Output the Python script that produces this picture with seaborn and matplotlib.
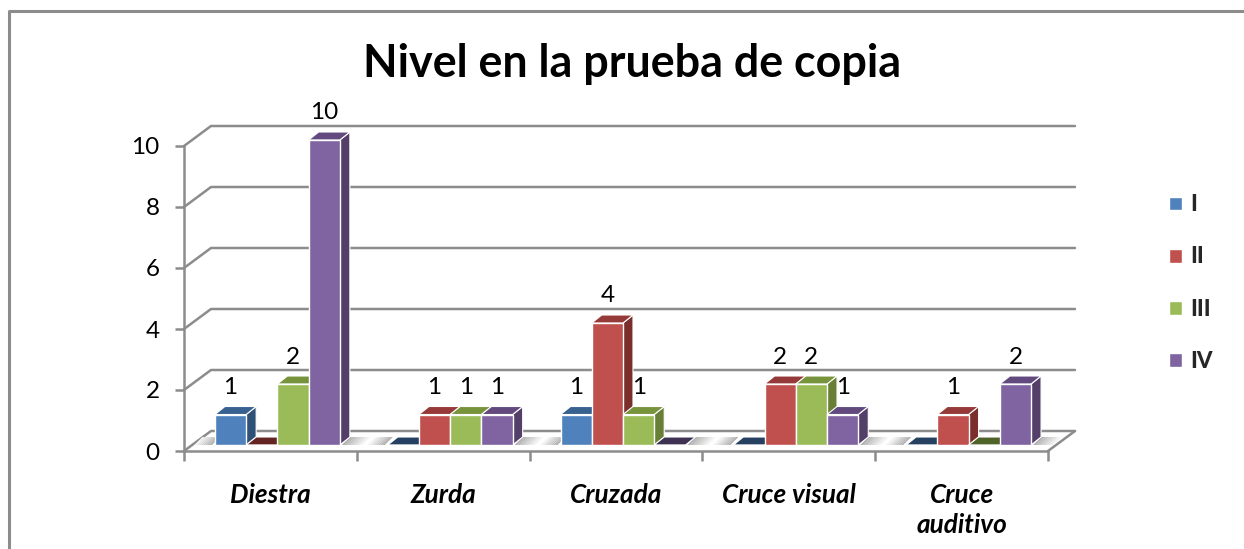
import pandas as pd
import seaborn as sns
import matplotlib.pyplot as plt
from matplotlib.lines import Line2D
from matplotlib.patches import Polygon
from matplotlib.transforms import Affine2D, IdentityTransform

categories = ["Diestra", "Zurda", "Cruzada", "Cruce visual", "Cruce\nauditivo"]
levels = ["I", "II", "III", "IV"]
values_I = [1, 0, 1, 0, 0]
values_II = [0, 1, 4, 2, 1]
values_III = [2, 1, 1, 2, 0]
values_IV = [10, 1, 0, 1, 2]

front_colors = ["#4F81BD", "#C0504D", "#9BBB59", "#8064A2"]
top_colors = ["#38618F", "#953A38", "#77933C", "#624A7E"]
side_colors = ["#2F5178", "#7B2F2D", "#6A7F36", "#533F68"]
flat_colors = ["#254061", "#632523", "#4F6228", "#3F3151"]
axis_gray = "#8C8C8C"

# pixel offsets of the fake 3d look
WALL_DX, WALL_DY = 27, 20
BAR_DX, BAR_DY = 7, 6
DEPTH_DX, DEPTH_DY = 10, 8

df = pd.DataFrame({
    "grupo": categories * 4,
    "nivel": [n for n in levels for _ in categories],
    "valor": values_I + values_II + values_III + values_IV,
})

sns.set_theme(style="white")
plt.rcParams["font.family"] = ["Lato", "DejaVu Sans"]

fig = plt.figure(figsize=(12.44, 5.49), dpi=100)
ax = fig.add_axes([184 / 1244, (549 - 451) / 549, 864 / 1244, 305 / 549])

sns.barplot(data=df, x="grupo", y="valor", hue="nivel", order=categories, hue_order=levels,
            palette=front_colors, width=0.723, gap=0, saturation=1, ax=ax, legend=True, zorder=3)

ax.set_xlim(-0.5, len(categories) - 0.5)
ax.set_ylim(0, 10)
ax.set_xlabel("")
ax.set_ylabel("")
ax.set_facecolor("none")

# axes and ticks
sns.despine(ax=ax)
for side in ["left", "bottom"]:
    ax.spines[side].set_color(axis_gray)
    ax.spines[side].set_linewidth(1.8)
ax.set_yticks(range(0, 11, 2))
ax.tick_params(axis="y", length=6.5, width=1.8, color=axis_gray, pad=11, labelsize=17.5, labelcolor="black", left=True)
ax.set_xticks(range(len(categories)))
ax.set_xticklabels(categories, fontsize=18.8, fontweight="bold", fontstyle="italic", color="black", linespacing=1.32)
ax.set_xticks([i - 0.5 for i in range(len(categories) + 1)], minor=True)
ax.tick_params(axis="x", which="major", length=0, pad=23)
ax.tick_params(axis="x", which="minor", length=7, width=1.8, color=axis_gray, bottom=True)
for lab in ax.get_xticklabels():
    lab.set_verticalalignment("top")

# floor and wall lines
x0, x1 = ax.get_xlim()
wall = Affine2D().translate(WALL_DX, WALL_DY)
for v in range(0, 11, 2):
    a = ax.transData.transform((x0, v))
    b = wall.transform(a)
    c = wall.transform(ax.transData.transform((x1, v)))
    ax.add_line(Line2D([a[0], b[0], c[0]], [a[1], b[1], c[1]], color=axis_gray, lw=1.8,
                       transform=IdentityTransform(), clip_on=False, zorder=1))
a = ax.transData.transform((x1, 0))
b = wall.transform(a)
ax.add_line(Line2D([a[0], b[0]], [a[1], b[1]], color=axis_gray, lw=1.8,
                   transform=IdentityTransform(), clip_on=False, zorder=1))


def para(x_left, x_right, y, color, zorder):
    # small parallelogram lying on the floor, in pixels
    pts = [(x_left, y), (x_right, y), (x_right + DEPTH_DX * 0.8, y + DEPTH_DY), (x_left + DEPTH_DX * 0.8, y + DEPTH_DY)]
    ax.add_patch(Polygon(pts, closed=True, facecolor=color, edgecolor="none",
                         transform=IdentityTransform(), clip_on=False, zorder=zorder))


# faded shadows on the floor at both ends of each group
floor_y = ax.transData.transform((0, 0))[1] + BAR_DY
n_fade = 8
for i in range(len(categories)):
    group_left = ax.transData.transform((i - 0.723 / 2, 0))[0] + BAR_DX
    group_right = ax.transData.transform((i + 0.723 / 2, 0))[0] + BAR_DX
    for k in range(n_fade):
        shade = 0.68 + 0.32 * k / n_fade
        para(group_right + 2 + k * 2.6, group_right + 2 + (k + 1) * 2.6, floor_y, (shade, shade, shade), 1.5)
        para(group_left - 3 - (k + 1) * 2.2, group_left - 3 - k * 2.2, floor_y, (shade, shade, shade), 1.5)

# bars moved into the floor, with side and top faces
shift = Affine2D().translate(BAR_DX, BAR_DY)
for h, container in enumerate(ax.containers):
    for i, bar in enumerate(container):
        z = 3 + i + h * 0.1
        left, right = bar.get_x(), bar.get_x() + bar.get_width()
        height = bar.get_height()
        p_br = shift.transform(ax.transData.transform((right, 0)))
        p_tl = shift.transform(ax.transData.transform((left, height)))
        p_tr = shift.transform(ax.transData.transform((right, height)))
        d = (DEPTH_DX, DEPTH_DY)
        if height > 0:
            ax.add_patch(Polygon([p_br, p_tr, p_tr + d, p_br + d], closed=True, facecolor=side_colors[h],
                                 edgecolor="white", lw=0.8, transform=IdentityTransform(), clip_on=False, zorder=z))
        ax.add_patch(Polygon([p_tl, p_tr, p_tr + d, p_tl + d], closed=True,
                             facecolor=top_colors[h] if height > 0 else flat_colors[h],
                             edgecolor="white", lw=0.8, transform=IdentityTransform(), clip_on=False, zorder=z))
        bar.set_transform(ax.transData + shift)
        bar.set_edgecolor("white")
        bar.set_linewidth(1.0)
        bar.set_clip_on(False)
        bar.set_zorder(z + 0.01)
        if height > 0:
            ax.annotate(f"{height:.0f}", ((left + right) / 2, height), xytext=(BAR_DX, 33),
                        textcoords="offset pixels", ha="center", va="center",
                        fontsize=17.5, color="black", zorder=20, annotation_clip=False)

handles, labels = ax.get_legend_handles_labels()
leg = ax.legend(handles, labels, loc="center left", bbox_to_anchor=(1158 / 1244, (549 - 283) / 549),
                bbox_transform=fig.transFigure, frameon=False, labelspacing=1.4,
                handlelength=0.58, handleheight=0.58, handletextpad=0.35, borderpad=0,
                prop={"weight": "black", "size": 16})

fig.text(632 / 1244, (549 - 64) / 549, "Nivel en la prueba de copia", ha="center", va="center",
         fontsize=32.3, fontweight="bold", color="black")

# outer frame of the chart, only top and left reach the picture
fig.add_artist(Line2D([9 / 1244, 9 / 1244, 1], [0, (549 - 11) / 549, (549 - 11) / 549], color=axis_gray,
                      lw=2.2, transform=fig.transFigure))

fig.savefig("out.png", dpi=100, facecolor="white")
